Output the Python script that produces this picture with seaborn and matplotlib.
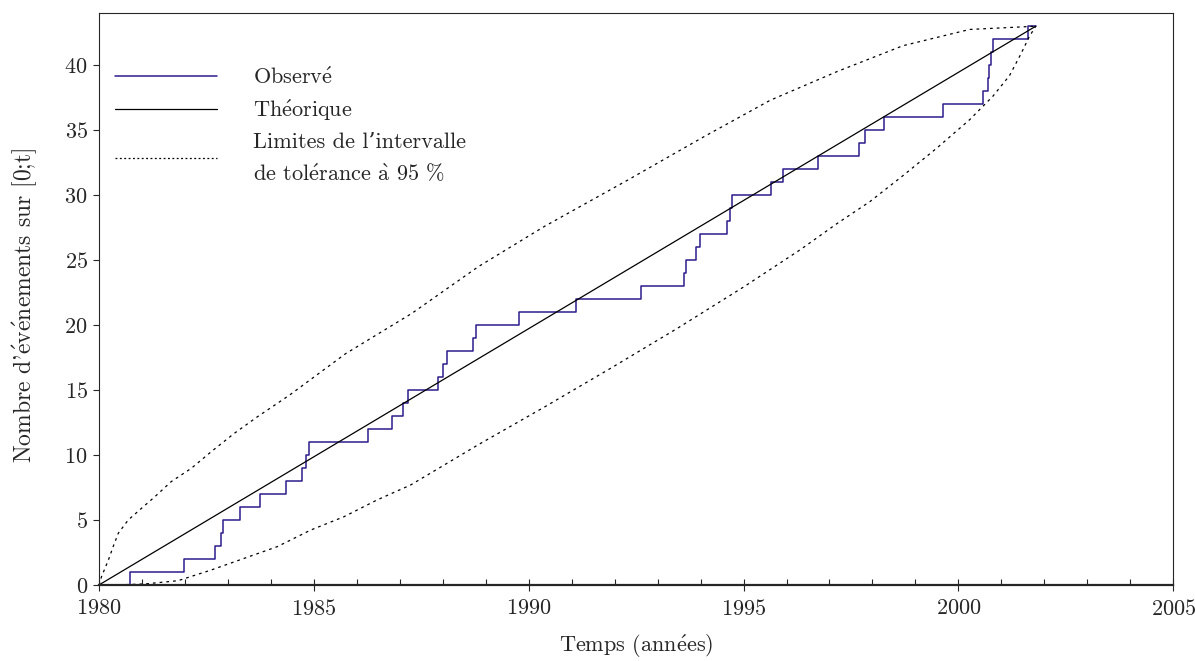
import numpy as np
import pandas as pd
import matplotlib
matplotlib.use("Agg")
import matplotlib.pyplot as plt
from matplotlib.ticker import MultipleLocator
import seaborn as sns

# dates des événements (années)
event_times = [1980.72, 1981.98, 1982.70, 1982.84, 1982.89, 1983.28, 1983.75,
               1984.36, 1984.73, 1984.82, 1984.89, 1986.27, 1986.83, 1987.07,
               1987.19, 1987.90, 1988.00, 1988.11, 1988.71, 1988.78, 1989.77,
               1991.10, 1992.62, 1993.61, 1993.65, 1993.90, 1993.99, 1994.62,
               1994.68, 1994.73, 1995.63, 1995.93, 1996.74, 1997.69, 1997.83,
               1998.27, 1999.64, 2000.58, 2000.70, 2000.72, 2000.75, 2000.80,
               2001.62]
t_start = 1980.0
t_end = 2001.80

# droite théorique
theo_t = [t_start, t_end]
theo_n = [0, 43]

# limites de l'intervalle de tolérance à 95 %
upper_t = [1980.0, 1980.06, 1980.22, 1980.33, 1980.45, 1980.68, 1980.99, 1981.30,
           1981.68, 1982.15, 1982.61, 1983.15, 1983.69, 1984.43, 1985.74, 1987.28,
           1988.83, 1990.37, 1992.30, 1994.08, 1995.62, 1997.17, 1998.71, 2000.26,
           2001.80]
upper_n = [0, 0.64, 1.92, 2.95, 3.98, 5.0, 5.9, 6.79, 7.95, 8.98, 10.25, 11.67,
           12.95, 14.6, 17.8, 20.9, 24.5, 27.6, 31.15, 34.5, 37.3, 39.5, 41.5,
           42.75, 43.0]
lower_t = [1980.0, 1980.37, 1981.07, 1981.84, 1982.61, 1983.38, 1984.15, 1984.93,
           1985.70, 1986.47, 1987.25, 1988.17, 1988.83, 1990.37, 1991.92, 1993.46,
           1995.01, 1996.32, 1997.17, 1997.94, 1998.71, 1999.49, 2000.26, 2000.80,
           2001.19, 2001.46, 2001.65, 2001.80]
lower_n = [0, 0, 0.08, 0.33, 1.15, 2.05, 2.95, 4.23, 5.25, 6.54, 7.69, 9.5, 10.8,
           13.7, 16.7, 19.75, 22.95, 25.8, 27.8, 29.5, 31.5, 33.6, 35.8, 37.6,
           39.2, 40.9, 42.2, 43.0]

obs = pd.DataFrame({
    "t": [t_start] + event_times + [t_end],
    "n": list(range(0, len(event_times) + 1)) + [len(event_times)],
})

sns.set_style("ticks")
plt.rcParams["font.family"] = ["cmr10", "DejaVu Serif"]
plt.rcParams["mathtext.fontset"] = "cm"
plt.rcParams["axes.formatter.use_mathtext"] = True

# accents en mode math (cmr10 n'a pas les lettres accentuées)
E_AIGU = r"$\acute{\mathrm{e}}$"
A_GRAVE = r"$\grave{\mathrm{a}}$"

fig = plt.figure(figsize=(11.95, 6.61), dpi=100)
ax = fig.add_axes([0.0828, 0.115, 0.899, 0.865])

sns.lineplot(data=obs, x="t", y="n", drawstyle="steps-post", estimator=None,
             color="#2b1d8c", lw=1.1, ax=ax, label="Observ" + E_AIGU)
sns.lineplot(x=theo_t, y=theo_n, color="black", lw=0.9, ax=ax,
             label="Th" + E_AIGU + "orique")
sns.lineplot(x=upper_t, y=upper_n, color="black", lw=0.9, ax=ax,
             label="Limites de l’intervalle\nde tol" + E_AIGU + "rance " + A_GRAVE + " 95 %")
sns.lineplot(x=lower_t, y=lower_n, color="black", lw=0.9, ax=ax)
ax.lines[2].set_dashes([2.2, 3.2])
ax.lines[3].set_dashes([2.2, 3.2])

ax.set_xlim(1980, 2005)
ax.set_ylim(0, 44)
ax.xaxis.set_major_locator(MultipleLocator(5))
ax.xaxis.set_minor_locator(MultipleLocator(1))
ax.yaxis.set_major_locator(MultipleLocator(5))
ax.tick_params(axis="x", which="major", direction="inout", length=8, width=0.8,
               labelsize=16, pad=6)
ax.tick_params(axis="x", which="minor", direction="in", length=4, width=0.8)
ax.tick_params(axis="y", which="major", direction="out", length=4, width=0.8,
               labelsize=16, pad=4)
for s in ["top", "right", "left"]:
    ax.spines[s].set_linewidth(0.8)
ax.spines["bottom"].set_linewidth(1.6)

ax.set_xlabel("Temps (ann" + E_AIGU + "es)", fontsize=16, labelpad=10)
ax.set_ylabel("Nombre d'" + E_AIGU + "v" + E_AIGU + "nements sur [0;t]", fontsize=17)
ax.yaxis.set_label_coords(-0.056, 0.49)

leg = ax.legend(loc="upper left", bbox_to_anchor=(-0.006, 0.945), frameon=False,
                fontsize=16, handlelength=4.6, handletextpad=1.6,
                labelspacing=0.45, borderaxespad=0.6)
leg.get_lines()[2].set_dashes([1.5, 2.0])
leg.get_texts()[2].set_linespacing(1.55)

fig.savefig("out.png", dpi=100)
